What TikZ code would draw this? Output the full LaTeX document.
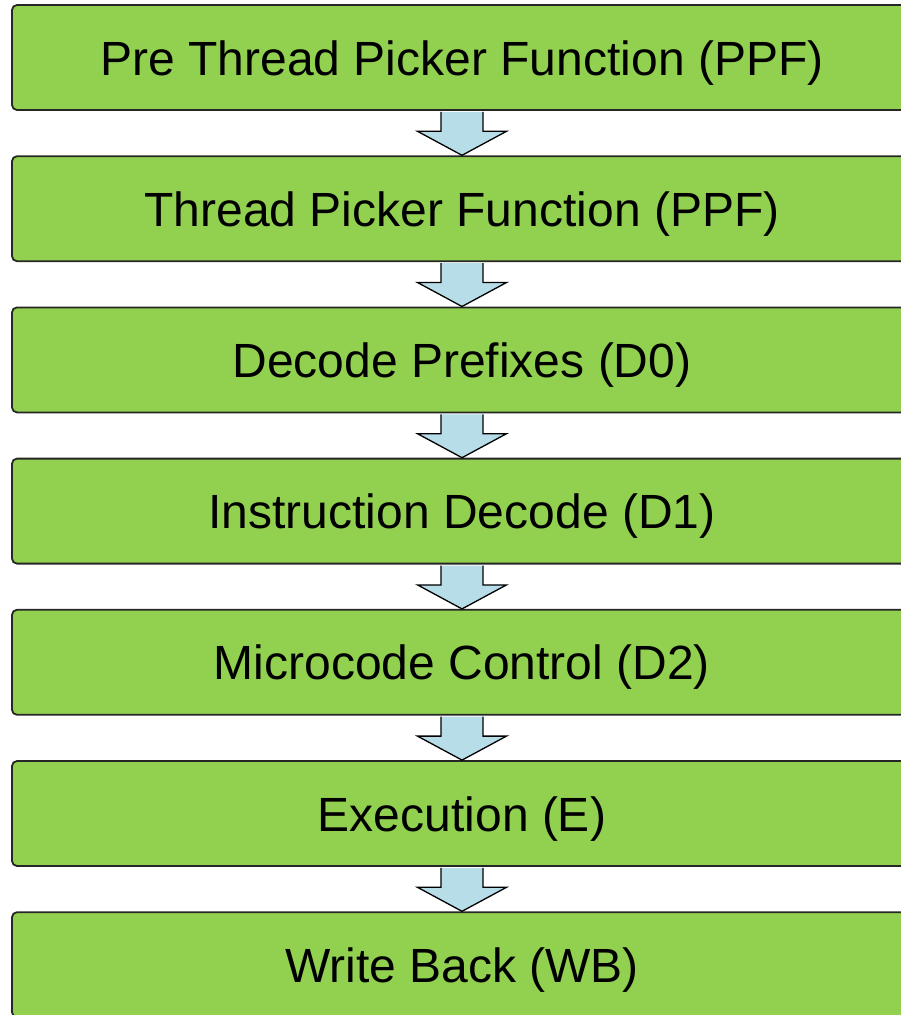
\documentclass[tikz,border=0pt]{standalone}
\usepackage{fontspec}
\setmainfont{Liberation Sans}
\usetikzlibrary{calc}
\definecolor{boxgreen}{HTML}{92D050}
\definecolor{arrowblue}{HTML}{B7DEE8}
\tikzset{
  stage/.style={draw=black!85, line width=1.8pt, fill=boxgreen, rounded corners=5pt,
    minimum width=900pt, minimum height=105pt, inner sep=0pt,
    text height=35pt, text depth=0pt,
    font=\fontsize{48}{52}\selectfont, text=black},
  blockarrow/.style={draw=black, line width=1.3pt, fill=arrowblue, line join=miter},
}
\begin{document}
\begin{tikzpicture}[x=1pt,y=-1pt]
\useasboundingbox (0,0) rectangle (901,1015);
\node[stage] (s1) at (462,57.5) {Pre Thread Picker Function (PPF)};
\node[stage] (s2) at (462,208.7) {Thread Picker Function (PPF)};
\node[stage] (s3) at (462,359.9) {Decode Prefixes (D0)};
\node[stage] (s4) at (462,511.1) {Instruction Decode (D1)};
\node[stage] (s5) at (462,662.3) {Microcode Control (D2)};
\node[stage] (s6) at (462,813.5) {Execution (E)};
\node[stage] (s7) at (462,964.7) {Write Back (WB)};
\foreach \a/\b in {s1/s2,s2/s3,s3/s4,s4/s5,s5/s6,s6/s7}{
  \draw[blockarrow] ($(\a.south)+(-21,1)$) -- ($(\b.north)+(-21,-24)$) -- ($(\b.north)+(-44.5,-24)$)
    -- (\b.north) -- ($(\b.north)+(44.5,-24)$) -- ($(\b.north)+(21,-24)$) -- ($(\a.south)+(21,1)$);
}
\end{tikzpicture}
\end{document}
